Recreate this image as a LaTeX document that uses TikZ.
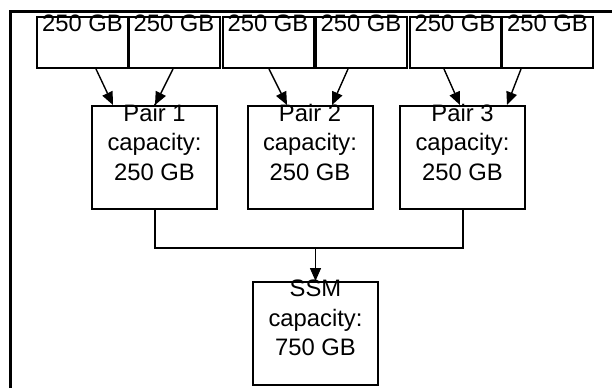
\documentclass[tikz,border=0pt]{standalone}
\usepackage{fontspec}
\setmainfont{Liberation Sans}
\usepackage{tikz}
\usetikzlibrary{arrows.meta, positioning, calc}

\tikzset{
  drive/.style={draw, line width=1pt, minimum width=45.5pt, minimum height=25.75pt, inner sep=0pt},
  pairbox/.style={draw, line width=1pt, minimum width=62.5pt, minimum height=51.5pt, inner sep=0pt},
  boxtext/.style={anchor=north, inner sep=0pt, align=center, font=\fontsize{11.9}{14.85}\selectfont},
  feed/.style={line width=0.7pt, -{Triangle[length=6.5pt, width=5.5pt]}},
  bus/.style={line width=1pt},
  frame/.style={line width=1.5pt}
}

\begin{document}
\begin{tikzpicture}[x=0.5pt, y=-0.5pt]
\useasboundingbox (0,0) rectangle (612,388);
% Frame (left and top edges only)
\draw[frame] (10.5,388) -- (10.5,11.5) -- (612,11.5);
% Six drives
\foreach \i/\x in {1/82.5, 2/174, 3/268, 4/361, 5/455, 6/547.5} {
  \node[drive, label={[boxtext, yshift=0.5pt]north:250 GB}] (d\i) at (\x,42.25) {};
}
% Pairs
\node[pairbox, label={[boxtext, yshift=0.8pt]north:Pair 1\\capacity:\\250 GB}] (p1) at (154.5,157.5) {};
\node[pairbox, label={[boxtext, yshift=0.8pt]north:Pair 2\\capacity:\\250 GB}] (p2) at (310,157.5) {};
\node[pairbox, label={[boxtext, yshift=0.8pt]north:Pair 3\\capacity:\\250 GB}] (p3) at (462.5,157.5) {};
% SSM
\node[pairbox, label={[boxtext, yshift=0.8pt]north:SSM\\capacity:\\750 GB}] (ssm) at (315.5,333.5) {};
% Drives into pairs
\foreach \d/\ds/\p/\ps in {d1/13.5/p1/-41.5, d2/-1/p1/0.5, d3/1/p2/-23, d4/-13/p2/22, d5/-11/p3/-2.5, d6/-26.5/p3/44.5} {
  \draw[feed] ($(\d.south)+(\ds,0)$) -- ($(\p.north)+(\ps,0)$);
}
% Pairs into SSM
\coordinate (busmid) at ($(p1.south)!0.5!(p3.south)+(0,38)$);
\draw[bus] (p1.south) |- (busmid) -| (p3.south);
\draw[feed] (ssm.north |- busmid) -- (ssm.north);
\end{tikzpicture}
\end{document}
